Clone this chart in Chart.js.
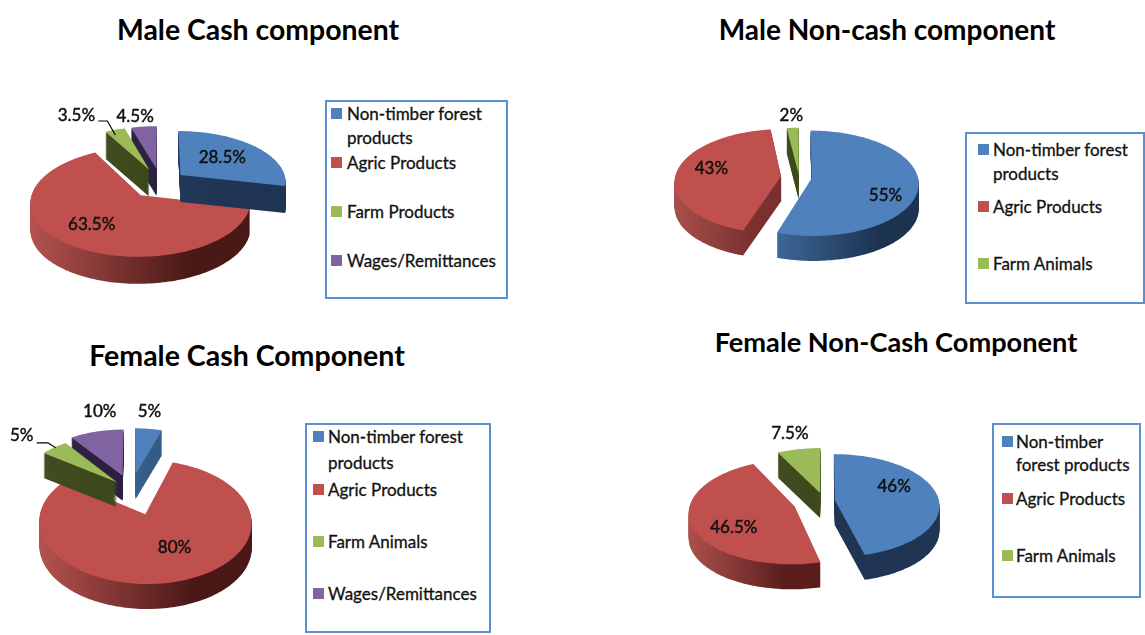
<!DOCTYPE html>
<html>
<head>
<meta charset="utf-8">
<script src="https://cdn.jsdelivr.net/npm/chart.js@4/dist/chart.umd.min.js"></script>
<style>
html,body{margin:0;padding:0;background:#fff;overflow:hidden;width:1145px;height:635px;font-family:Lato,sans-serif;color:#000}
canvas{position:absolute}
.title{position:absolute;transform:translate(-50%,-50%);white-space:nowrap;font-family:Lato,sans-serif;font-weight:bold}
.box{position:absolute;box-sizing:border-box;border:2px solid #5b8fd0;background:#fff}
.sw{position:absolute;width:11px;height:11px}
.lt{position:absolute;transform:translateY(-50%);white-space:nowrap;font:17px Lato,sans-serif;color:#111;-webkit-text-stroke:.3px #111}
</style>
</head>
<body>
<script>
const titles = ["Male Cash component","Male Non-cash component","Female Cash Component","Female Non-Cash Component"];

const categoriesMaleCash = ["Non-timber forest products","Agric Products","Farm Products","Wages/Remittances"];
const valuesMaleCash = [28.5,63.5,3.5,4.5];
const categoriesMaleNonCash = ["Non-timber forest products","Agric Products","Farm Animals"];
const valuesMaleNonCash = [55,43,2];
const categoriesFemaleCash = ["Non-timber forest products","Agric Products","Farm Animals","Wages/Remittances"];
const valuesFemaleCash = [5,80,5,10];
const categoriesFemaleNonCash = ["Non-timber forest products","Agric Products","Farm Animals"];
const valuesFemaleNonCash = [46,46.5,7.5];

const colors = ["#4F81BD","#C0504D","#9BBB59","#8064A2"];

// layout + look of every panel (nothing here is data)
const panels = [
 {title:[258,29], tsize:28.4, cats:categoriesMaleCash, vals:valuesMaleCash,
  canvas:[0,60,330,250], c:[160.5,182.6], R:106, s:.48, p:.12, depth:27,
  offset:[26,32,30,30], order:[1,0,3,2],
  walls:[["#22385a","#1f3352"],["#b5524e","#4a1917"],["#414c20","#3d481d"],["#302344","#2c2040"]],
  shift:[[-4,0],[-6,2],[-31,-5],[-6,-1]], outside:[0,0,1,1], leader:{i:2,pts:[[22,5],[31,5],[39,19]]},
  legend:{box:[325,100,183,199], sw:[331,347], rows:[[113,["Non-timber forest"],137,["products"]],[162,["Agric Products"]],[211,["Farm Products"]],[260,["Wages/Remittances"]]]}},
 {title:[887,29], tsize:28, cats:categoriesMaleNonCash, vals:valuesMaleNonCash,
  canvas:[660,100,280,175], c:[799,177], R:106, s:.49, p:.1, depth:25,
  offset:[13,18,5], order:[2,1,0],
  walls:[["#3d6797","#1c3350"],["#a84f4c","#7a302e"],["#414c20","#3d481d"]],
  shift:[[10,13],[-7,-5],[0,-2]], outside:[0,0,1],
  legend:{box:[965,132,180,172], sw:[978,993], rows:[[149,["Non-timber forest"],173,["products"]],[206,["Agric Products"]],[263,["Farm Animals"]]]}},
 {title:[247,355], tsize:28.5, cats:categoriesFemaleCash, vals:valuesFemaleCash,
  canvas:[0,395,300,240], c:[131,490], R:100, s:.55, p:.12, depth:25,
  offset:[30,44,20,28], order:[1,3,2,0],
  walls:[["#38618f","#345a86"],["#b5524e","#4a1917"],["#414c20","#3d481d"],["#302344","#2c2040"]],
  shift:[[-2,-7],[7,-4],[-18,-4],[9,-10]], outside:[1,0,1,1], leader:{i:2,pts:[[15,7],[26,7],[34,12]]},
  legend:{box:[305,423,186,210], sw:[313,328], rows:[[436,["Non-timber forest"],462,["products"]],[489,["Agric Products"]],[541,["Farm Animals"]],[593,["Wages/Remittances"]]]}},
 {title:[896,341], tsize:27.2, cats:categoriesFemaleNonCash, vals:valuesFemaleNonCash,
  canvas:[670,415,290,190], c:[824,501], R:104, s:.49, p:.1, depth:25,
  offset:[11,31,17], order:[2,0,1],
  walls:[["#1f3553","#1f3553"],["#ad504c","#5a1f1d"],["#414c20","#3d481d"]],
  shift:[[-2,-10],[0,10],[-4,-6]], outside:[0,0,1],
  legend:{box:[992,423,149,175], sw:[1002,1016], rows:[[441,["Non-timber"],464,["forest products"]],[498,["Agric Products"]],[555,["Farm Animals"]]]}}
];

const pie3d = {
  id:'pie3d',
  beforeDatasetsDraw(chart){
    const cfg = chart.options.plugins.pie3d;
    const ctx = chart.ctx, arcs = chart.getDatasetMeta(0).data;
    const proj = (cx,cy,u,v,R) => {
      const w = 1/(1-cfg.p*v/R);
      return [cx+u*w, cy+cfg.s*v*w];
    };
    const wedge = (a,d) => {
      const off = a.options.offset, mid=(a.startAngle+a.endAngle)/2;
      const ox=off*Math.cos(mid), oy=off*Math.sin(mid), R=a.outerRadius;
      const pts=[proj(a.x,a.y,ox,oy,R)];
      const n=Math.max(2,Math.ceil((a.endAngle-a.startAngle)/0.025));
      for(let i=0;i<=n;i++){
        const t=a.startAngle+(a.endAngle-a.startAngle)*i/n;
        pts.push(proj(a.x,a.y,ox+R*Math.cos(t),oy+R*Math.sin(t),R));
      }
      ctx.beginPath();
      pts.forEach((q,i)=>i?ctx.lineTo(q[0],q[1]+d):ctx.moveTo(q[0],q[1]+d));
      ctx.closePath();
      return pts;
    };
    ctx.save();
    cfg.order.forEach(i=>{
      const a=arcs[i];
      const pts=wedge(a,0);
      const xs=pts.map(q=>q[0]);
      const g=ctx.createLinearGradient(Math.min(...xs),0,Math.max(...xs),0);
      g.addColorStop(0,cfg.walls[i][0]);
      g.addColorStop(.72,cfg.walls[i][1]);
      g.addColorStop(1,cfg.walls[i][1]);
      for(let d=cfg.depth;d>=1;d--){
        wedge(a,d);
        ctx.fillStyle=g;ctx.fill();
      }
      wedge(a,0);
      ctx.fillStyle=a.options.backgroundColor;ctx.fill();
    });
    // value labels anchored on the arcs
    ctx.font='17px Lato, sans-serif';
    ctx.textAlign='center';ctx.textBaseline='middle';
    arcs.forEach((a,i)=>{
      const mid=(a.startAngle+a.endAngle)/2, R=a.outerRadius;
      const L=a.options.offset+(cfg.outside[i]?1.25:.6)*R;
      const q=proj(a.x,a.y,L*Math.cos(mid),L*Math.sin(mid),R);
      const x=q[0]+cfg.shift[i][0], y=q[1]+cfg.shift[i][1];
      ctx.fillStyle='#111';ctx.strokeStyle='#111';ctx.lineWidth=.45;
      const t=chart.data.datasets[0].data[i]+'%';
      ctx.fillText(t,x,y);ctx.strokeText(t,x,y);
      if(cfg.leader && cfg.leader.i===i){
        ctx.beginPath();
        cfg.leader.pts.forEach((o,k)=>k?ctx.lineTo(x+o[0],y+o[1]):ctx.moveTo(x+o[0],y+o[1]));
        ctx.strokeStyle='#000';ctx.lineWidth=1.2;ctx.stroke();
      }
    });
    ctx.restore();
    return false;
  }
};

const el=(cls,st,txt)=>{const d=document.createElement('div');d.className=cls;Object.assign(d.style,st);if(txt)d.textContent=txt;document.body.appendChild(d);return d;};

panels.forEach((P,idx)=>{
  const [L,T,W,H]=P.canvas;
  const cv=document.createElement('canvas');
  cv.width=W;cv.height=H;cv.style.left=L+'px';cv.style.top=T+'px';
  document.body.appendChild(cv);
  const cx=P.c[0]-L, cy=P.c[1]-T;
  new Chart(cv,{
    type:'pie',
    data:{labels:P.cats,datasets:[{data:P.vals,backgroundColor:colors.slice(0,P.vals.length),offset:P.offset,borderWidth:0}]},
    plugins:[pie3d],
    options:{
      responsive:false,animation:false,radius:P.R,rotation:0,
      layout:{padding:{left:Math.max(0,2*cx-W),right:Math.max(0,W-2*cx),top:Math.max(0,2*cy-H),bottom:Math.max(0,H-2*cy)}},
      plugins:{legend:{display:false},title:{display:false},tooltip:{enabled:false},
        pie3d:{s:P.s,p:P.p,depth:P.depth,order:P.order,walls:P.walls,shift:P.shift,outside:P.outside,leader:P.leader}}
    }
  });
  el('title',{left:P.title[0]+'px',top:P.title[1]+'px',fontSize:P.tsize+'px'},titles[idx]);
  const b=P.legend.box;
  el('box',{left:b[0]+'px',top:b[1]+'px',width:b[2]+'px',height:b[3]+'px'});
  P.legend.rows.forEach((r,i)=>{
    el('sw',{left:P.legend.sw[0]+'px',top:(r[0]-5)+'px',background:colors[i]});
    for(let k=0;k<r.length;k+=2) el('lt',{left:P.legend.sw[1]+'px',top:r[k]+'px'},r[k+1][0]);
  });
});
</script>
</body>
</html>
